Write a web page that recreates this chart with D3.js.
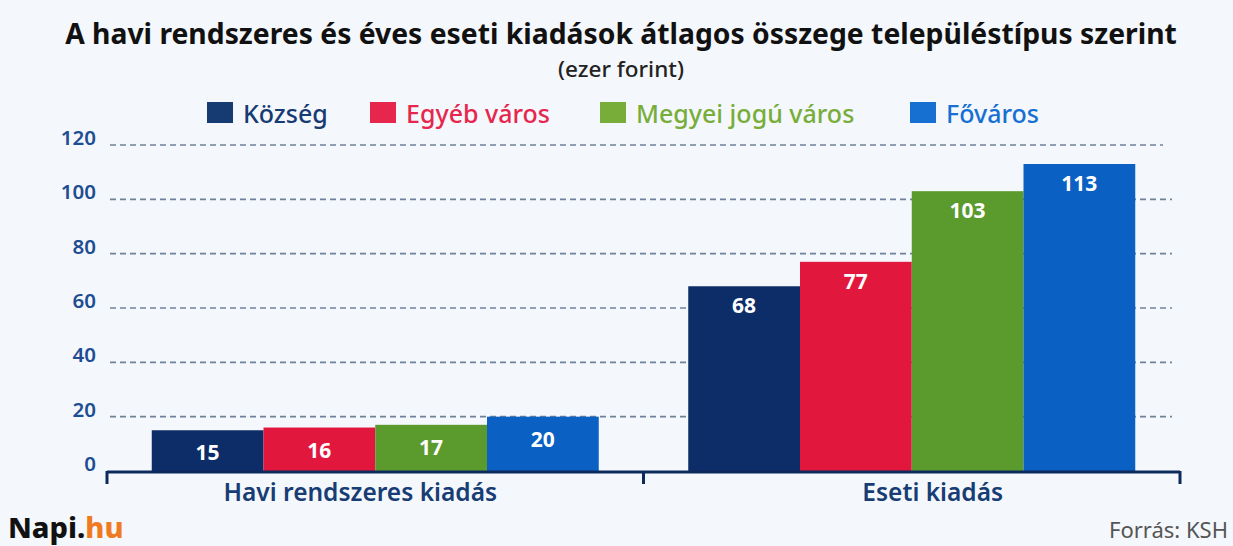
<!DOCTYPE html>
<html>
<head>
<meta charset="utf-8">
<script src="https://cdn.jsdelivr.net/npm/d3@7"></script>
<style>
  body { margin: 0; background: #f4f7fb; }
  svg { display: block; font-family: "Noto Sans", "Open Sans", sans-serif; }
</style>
</head>
<body>
<div id="chart-area"></div>
<script>
let categories = ["Havi rendszeres kiadás", "Eseti kiadás"]
let series = ["Község", "Egyéb város", "Megyei jogú város", "Főváros"]
let kozseg = [15, 68]
let egyebVaros = [16, 77]
let megyeiJoguVaros = [17, 103]
let fovaros = [20, 113]
let yTicks = [0, 20, 40, 60, 80, 100, 120]

let values = [kozseg, egyebVaros, megyeiJoguVaros, fovaros]
let data = categories.map((c, i) => ({
    cat: c,
    vals: series.map((s, j) => ({ key: s, value: values[j][i] }))
}))

let width = 1233
let height = 546

let barColors = ["#0c2d68", "#e2173d", "#5b9a2c", "#0b60c3"]
let legendColors = ["#163a72", "#e6264c", "#78ad3a", "#1670d2"]

let svg = d3.select("#chart-area")
            .append("svg")
            .attr("width", width)
            .attr("height", height)

svg.append("rect").attr("width", width).attr("height", height).attr("fill", "#f4f7fb")

// title
svg.append("text")
    .attr("x", 621).attr("y", 44)
    .attr("text-anchor", "middle")
    .attr("font-size", 28.3).attr("font-weight", 700).attr("fill", "#111")
    .text("A havi rendszeres és éves eseti kiadások átlagos összege településtípus szerint")
svg.append("text")
    .attr("x", 621).attr("y", 77)
    .attr("text-anchor", "middle")
    .attr("font-size", 22.5).attr("font-weight", 500).attr("fill", "#222")
    .text("(ezer forint)")

let yScale = d3.scaleLinear().domain([0, 120]).range([471, 145])
let x0 = d3.scaleBand().domain(categories).range([107, 1180])
let x1 = d3.scaleBand().domain(series)
            .range([(x0.bandwidth() - 447) / 2, (x0.bandwidth() + 447) / 2])
let color = d3.scaleOrdinal().domain(series).range(barColors)

// gridlines
svg.selectAll(".grid")
    .data(yTicks.filter(d => d > 0))
    .enter()
    .append("line")
    .attr("x1", 110).attr("x2", d => d == 120 ? 1163 : 1172)
    .attr("y1", d => yScale(d)).attr("y2", d => yScale(d))
    .attr("stroke", "#6f829c").attr("stroke-width", 1.6)
    .attr("stroke-dasharray", "6,4")

// y labels
svg.selectAll(".ylab")
    .data(yTicks)
    .enter()
    .append("text")
    .attr("x", 96)
    .attr("y", d => yScale(d) - 8)
    .attr("text-anchor", "end")
    .attr("dominant-baseline", "central")
    .attr("font-size", 20.5).attr("font-weight", 600).attr("fill", "#1d4d93")
    .text(d => d)

// bars
let groups = svg.selectAll(".group")
    .data(data)
    .enter()
    .append("g")
    .attr("transform", d => "translate(" + x0(d.cat) + ",0)")

groups.selectAll("rect")
    .data(d => d.vals)
    .enter()
    .append("rect")
    .attr("x", d => x1(d.key))
    .attr("y", d => yScale(d.value))
    .attr("width", x1.bandwidth())
    .attr("height", d => yScale(0) - yScale(d.value))
    .attr("fill", d => color(d.key))

groups.selectAll(".val")
    .data(d => d.vals)
    .enter()
    .append("text")
    .attr("x", d => x1(d.key) + x1.bandwidth() / 2)
    .attr("y", d => yScale(d.value) + (d.value < 40 ? 22 : 19))
    .attr("text-anchor", "middle")
    .attr("dominant-baseline", "central")
    .attr("font-size", 21).attr("font-weight", 700).attr("fill", "#fff")
    .text(d => d.value)

// x axis
let axis = svg.append("g").attr("stroke", "#0e2a5c").attr("stroke-width", 3).attr("fill", "none")
axis.append("line").attr("x1", 107).attr("x2", 1180).attr("y1", 472).attr("y2", 472)
axis.selectAll(".tick")
    .data([x0.range()[0], x0(categories[1]), x0.range()[1]])
    .enter()
    .append("line")
    .attr("x1", d => d).attr("x2", d => d)
    .attr("y1", 471).attr("y2", 484)

let catOffset = [-15, 21]
svg.selectAll(".cat")
    .data(categories)
    .enter()
    .append("text")
    .attr("x", (d, i) => x0(d) + x0.bandwidth() / 2 + catOffset[i])
    .attr("y", 501)
    .attr("text-anchor", "middle")
    .attr("font-size", 24.5).attr("font-weight", 600).attr("fill", "#173d74")
    .text(d => d)

// legend
let legendX = [207, 370, 600, 910]
let legend = svg.selectAll(".legend")
    .data(series)
    .enter()
    .append("g")
    .attr("transform", (d, i) => "translate(" + legendX[i] + ",102)")
legend.append("rect")
    .attr("width", 26).attr("height", 21)
    .attr("fill", (d, i) => legendColors[i])
legend.append("text")
    .attr("x", 36).attr("y", 11)
    .attr("dominant-baseline", "central")
    .attr("font-size", 25).attr("font-weight", 500)
    .attr("fill", (d, i) => legendColors[i])
    .text(d => d)

// footer
let logo = svg.append("text")
    .attr("x", 8).attr("y", 538)
    .attr("font-size", 29).attr("font-weight", 800)
logo.append("tspan").attr("fill", "#111").text("Napi.")
logo.append("tspan").attr("fill", "#f07a22").text("hu")

svg.append("text")
    .attr("x", 1228).attr("y", 538)
    .attr("text-anchor", "end")
    .attr("font-size", 22).attr("fill", "#555")
    .text("Forrás: KSH")
</script>
</body>
</html>
